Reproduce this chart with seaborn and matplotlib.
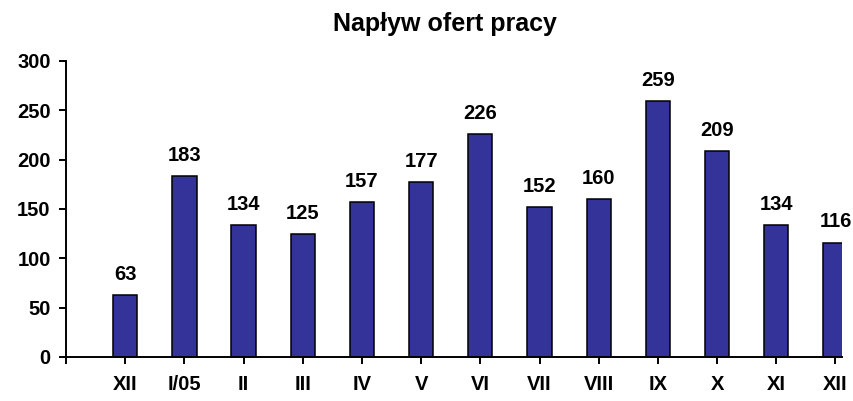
import matplotlib
matplotlib.use("Agg")
import matplotlib.pyplot as plt
import seaborn as sns
import pandas as pd

# monthly inflow of job offers
months = ["XII", "I/05", "II", "III", "IV", "V", "VI", "VII", "VIII", "IX", "X", "XI", "XII"]
offers = [63, 183, 134, 125, 157, 177, 226, 152, 160, 259, 209, 134, 116]
yticks = [0, 50, 100, 150, 200, 250, 300]

sns.set_theme(style="white")
plt.rcParams['font.family'] = ['Liberation Sans', 'DejaVu Sans']
plt.rcParams['font.weight'] = 'bold'
plt.rcParams['text.color'] = 'black'

# unique keys because "XII" occurs twice
df = pd.DataFrame({"key": [f"{i}_{m}" for i, m in enumerate(months)], "offers": offers})

fig = plt.figure(figsize=(8.54, 4.01), dpi=100)
ax = fig.add_axes([66 / 854, 44 / 401, (842 - 66) / 854, (357 - 61) / 401])

sns.barplot(data=df, x="key", y="offers", color="#333399", saturation=1,
            width=0.41, edgecolor="black", linewidth=1.1, ax=ax)

labels = ax.bar_label(ax.containers[0], padding=8, fontsize=14.5, fontweight="bold",
                      color="black")
for t in labels:
    t.set_clip_on(True)

ax.set_ylim(0, 300)
ax.set_yticks(yticks)
ax.set_xlim(-1, 12.11)
ax.set_xticks([-1] + list(range(len(months))))
ax.set_xticklabels([""] + months)
ax.set_xlabel("")
ax.set_ylabel("")

sns.despine(ax=ax)
for s in ["left", "bottom"]:
    ax.spines[s].set_color("black")
    ax.spines[s].set_linewidth(1.4)
ax.tick_params(axis="both", bottom=True, left=True, direction="out", length=5,
               width=1.4, color="black", labelsize=14.5, labelcolor="black")
ax.tick_params(axis="y", pad=6)
ax.tick_params(axis="x", pad=8)
for t in ax.get_xticklabels() + ax.get_yticklabels():
    t.set_fontweight("bold")

fig.text(445 / 854, (401 - 31) / 401, "Napływ ofert pracy", ha="center", va="baseline",
         fontsize=18, fontweight="bold", color="black")

fig.savefig("out.png", dpi=100)
